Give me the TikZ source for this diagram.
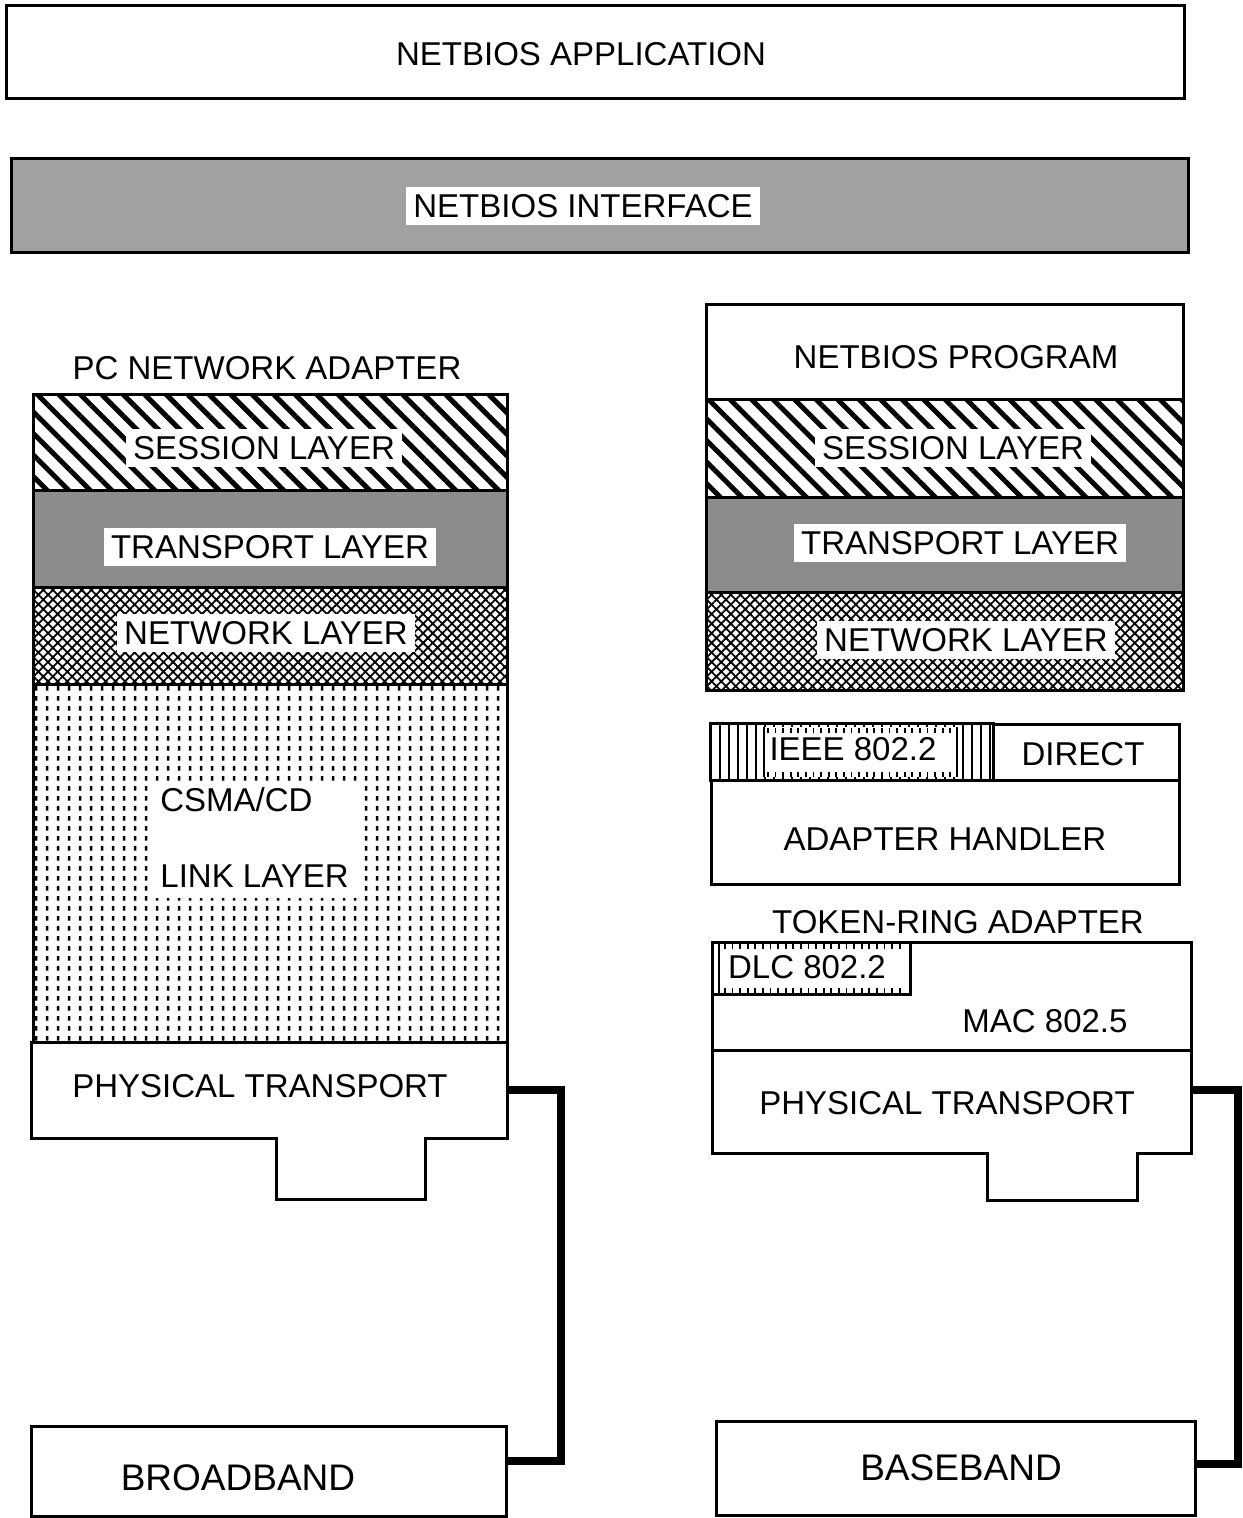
\documentclass[tikz,border=0pt]{standalone}
\usepackage{fontspec}
\setmainfont{Liberation Sans}
\usetikzlibrary{patterns,patterns.meta,fit}
\pgfdeclarepatternformonly{csmadots}{\pgfqpoint{0pt}{0pt}}{\pgfqpoint{5.25pt}{4.85pt}}{\pgfqpoint{5.25pt}{4.85pt}}{%
  \pgfpathrectangle{\pgfqpoint{2.0pt}{1.2pt}}{\pgfqpoint{1.3pt}{2.3pt}}%
  \pgfusepath{fill}}
\newcommand{\mkbox}[6]{\node[fit={(#2,#3)(#4,#5)}, inner sep=0pt, #6] (#1) {};}
\begin{document}
\begin{tikzpicture}[x=0.5pt,y=-0.5pt,
  lbl/.style={font=\fontsize{16.5}{18}\selectfont, inner sep=0pt, text height=11.8pt, text depth=0pt},
  biglbl/.style={font=\fontsize{18.5}{20}\selectfont, inner sep=0pt, text height=13.2pt, text depth=0pt},
  wlbl/.style={lbl, fill=white, inner xsep=3.5pt, inner ysep=3.5pt},
  bord/.style={draw=black, line width=1.5pt},
  outline/.style={draw=black, line width=1.5pt, line join=miter},
  conn/.style={draw=black, line width=4pt},
  hatch/.style={pattern={Lines[angle=-45,distance=7.6pt,line width=2.5pt]}},
  grayfill/.style={fill=black!45},
  xhatch/.style={pattern={Lines[angle=45,distance=3.4pt,line width=0.9pt]},
                 postaction={pattern={Lines[angle=-45,distance=3.4pt,line width=0.9pt]}}},
  vlines/.style={pattern={Lines[angle=90,distance=4.5pt,line width=0.9pt]}},
  ticks/.style={draw=black, line width=2.5pt, dash pattern=on 0.9pt off 2.9pt},
  dots/.style={pattern=csmadots}
]
\useasboundingbox (0,0) rectangle (1242,1518);

% ---- top boxes
\mkbox{app}{6}{6}{1184}{99}{bord}
\node[lbl] (appT) at (581,54) {NETBIOS APPLICATION};
\mkbox{iface}{11}{159}{1188}{253}{bord, fill=black!37}
\node[wlbl] (ifaceT) at (583,206) {NETBIOS INTERFACE};

% ---- left stack
\node[lbl] (pcT) at (267,368) {PC NETWORK ADAPTER};
\mkbox{lses}{33}{395}{507}{490}{bord, hatch}
\mkbox{ltra}{33}{490}{507}{587}{bord, grayfill}
\mkbox{lnet}{33}{587}{507}{684}{bord, xhatch}
\mkbox{lcsma}{33}{684}{507}{1042}{bord, dots}
\node[wlbl] (lsesT) at (264,448) {SESSION LAYER};
\node[wlbl] (ltraT) at (270,547) {TRANSPORT LAYER};
\node[wlbl] (lnetT) at (266,633) {NETWORK LAYER};
\mkbox{lcsmaW}{150}{785}{357}{898}{fill=white}
\node[lbl, anchor=west] (csmaT) at (160,800) {CSMA/CD};
\node[lbl, anchor=west] (linkT) at (160,876) {LINK LAYER};
\mkbox{lpt}{31}{1042}{507}{1138}{fill=white}
\draw[outline] (31,1042) -- (507,1042) -- (507,1138) -- (425,1138) -- (425,1199)
  -- (276,1199) -- (276,1138) -- (31,1138) -- cycle;
\node[lbl] (lptT) at (260,1086) {PHYSICAL TRANSPORT};
\mkbox{broad}{31}{1426}{506}{1516}{bord}
\node[biglbl] (broadT) at (238,1477) {BROADBAND};
\coordinate (busL) at (561,1300);
\draw[conn] (lpt.east) -| (busL) |- ([yshift=5pt]broad.east);

% ---- right stack
\mkbox{rprog}{706}{305}{1183}{400}{bord}
\node[lbl] (rprogT) at (956,357) {NETBIOS PROGRAM};
\mkbox{rses}{706}{400}{1183}{497}{bord, hatch}
\mkbox{rtra}{706}{497}{1183}{592}{bord, grayfill}
\mkbox{rnet}{706}{592}{1183}{690}{bord, xhatch}
\node[wlbl] (rsesT) at (953,448) {SESSION LAYER};
\node[wlbl] (rtraT) at (960,543) {TRANSPORT LAYER};
\node[wlbl] (rnetT) at (966,640) {NETWORK LAYER};

% IEEE / DIRECT
\mkbox{ieee}{711}{724}{993}{780}{vlines}
\mkbox{ieeeW}{764}{727}{957}{777}{fill=white}
\draw[ticks] (767,730) -- (955,730);
\draw[ticks] (767,774) -- (955,774);
\node[lbl] (ieeeT) at (853,749) {IEEE 802.2};
\draw[line width=1pt] (ieeeW.north west) -- (ieeeW.south west);
\draw[line width=1pt] (ieeeW.north east) -- (ieeeW.south east);
\mkbox{direct}{993}{724}{1179}{780}{bord}
\node[lbl] (directT) at (1083,754) {DIRECT};
\draw[line width=1.5pt] (ieee.north west) rectangle (ieee.south east);
\mkbox{handler}{711}{780}{1179}{884}{bord}
\node[lbl] (handlerT) at (945,839) {ADAPTER HANDLER};

% token ring
\node[lbl] (trT) at (958,922) {TOKEN-RING ADAPTER};
\mkbox{tr}{712}{942}{1191}{1050}{bord}
\mkbox{dlc}{712}{942}{910}{994}{bord}
\draw[line width=1pt] (719,942) -- (719,994);
\draw[ticks] (724,946) -- (905,946);
\draw[ticks] (724,990) -- (905,990);
\node[lbl] (dlcT) at (807,967) {DLC 802.2};
\node[lbl] (macT) at (1045,1021) {MAC 802.5};
\mkbox{rpt}{712}{1050}{1191}{1153}{fill=white}
\draw[outline] (712,1050) -- (1191,1050) -- (1191,1153) -- (1137,1153) -- (1137,1200)
  -- (987,1200) -- (987,1153) -- (712,1153) -- cycle;
\node[lbl] (rptT) at (947,1103) {PHYSICAL TRANSPORT};
\mkbox{base}{716}{1421}{1195}{1515}{bord}
\node[biglbl] (baseT) at (961,1467) {BASEBAND};
\coordinate (busR) at (1238,1300);
\draw[conn] ([yshift=6pt]rpt.east) -| (busR) |- ([yshift=2pt]base.east);
\end{tikzpicture}
\end{document}
